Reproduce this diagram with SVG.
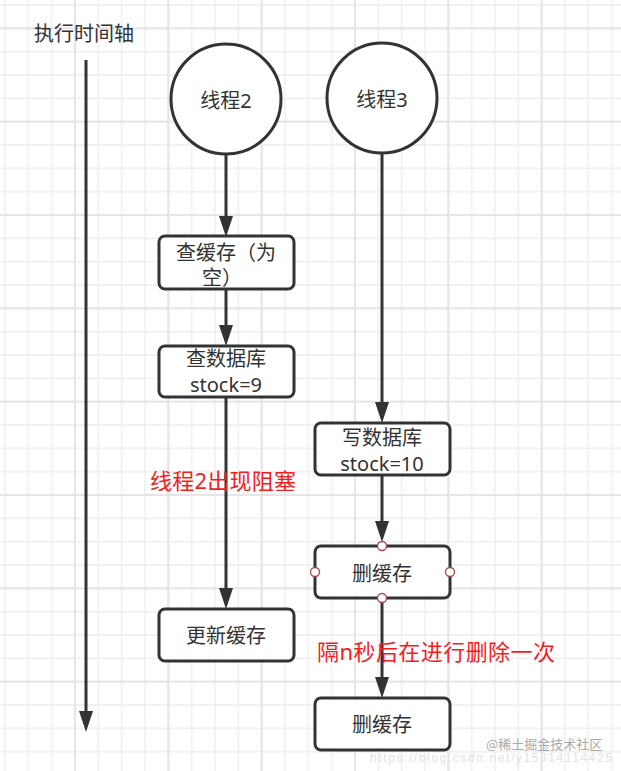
<svg xmlns="http://www.w3.org/2000/svg" width="621" height="771" viewBox="0 0 621 771">
  <style>
    .t { font-family: "Noto Sans", "Noto Sans CJK SC", sans-serif; font-size: 20px; fill: #333; text-anchor: middle; dominant-baseline: central; }
    .red { font-family: "Noto Sans", "Noto Sans CJK SC", sans-serif; font-size: 22px; fill: #f51c1c; dominant-baseline: central; }
    .box { fill: #fff; stroke: #333; stroke-width: 3; }
    .circ { fill: #fff; stroke: #333; stroke-width: 3; }
    .edge { stroke: #333; stroke-width: 3; fill: none; marker-end: url(#arr); }
    .pt { fill: #fff; stroke: #a84444; stroke-width: 1.3; }
  </style>
  <defs>
    <pattern id="minor" patternUnits="userSpaceOnUse" x="-6.667" y="-6.667" width="23.333" height="23.333">
      <path d="M11.667 0 V23.333 M0 11.667 H23.333" stroke="#ededed" stroke-width="1.3" fill="none"/>
    </pattern>
    <pattern id="major" patternUnits="userSpaceOnUse" x="28.333" y="-18.333" width="93.333" height="93.333">
      <path d="M46.667 0 V93.333 M0 46.667 H93.333" stroke="#e2e2e2" stroke-width="1.6" fill="none"/>
    </pattern>
    <marker id="arr" markerUnits="userSpaceOnUse" markerWidth="21" markerHeight="14" refX="0" refY="7" orient="auto" viewBox="0 0 21 14">
      <path d="M0 0 L21 7 L0 14 Z" fill="#333"/>
    </marker>
  </defs>

  <rect width="621" height="771" fill="#fff"/>
  <rect width="621" height="771" fill="url(#minor)"/>
  <rect width="621" height="771" fill="url(#major)"/>

  <g id="timeline">
    <text class="t" x="84" y="33">执行时间轴</text>
    <line class="edge" x1="86" y1="60" x2="86" y2="711"/>
  </g>

  <g id="connectors">
    <line class="edge" x1="226" y1="155" x2="226" y2="216"/>
    <line class="edge" x1="226" y1="289" x2="226" y2="325"/>
    <line class="edge" x1="226" y1="397" x2="226" y2="588"/>
    <line class="edge" x1="382" y1="153" x2="382" y2="402"/>
    <line class="edge" x1="382" y1="475" x2="382" y2="521"/>
    <line class="edge" x1="382" y1="598" x2="382" y2="677"/>
  </g>

  <g id="thread2">
    <circle class="circ" cx="226" cy="99" r="55"/>
    <text class="t" x="226" y="100">线程2</text>
  </g>
  <g id="thread3">
    <circle class="circ" cx="382" cy="98" r="55"/>
    <text class="t" x="382" y="99">线程3</text>
  </g>

  <g id="check-cache">
    <rect class="box" x="159" y="236" width="135" height="53" rx="6"/>
    <text class="t" x="226" y="252">查缓存（为</text>
    <text class="t" x="222" y="277">空）</text>
  </g>
  <g id="read-db">
    <rect class="box" x="159" y="346" width="135" height="51" rx="6"/>
    <text class="t" x="226" y="358">查数据库</text>
    <text class="t" x="226" y="384">stock=9</text>
  </g>
  <g id="update-cache">
    <rect class="box" x="159" y="609" width="135" height="52" rx="6"/>
    <text class="t" x="226" y="635">更新缓存</text>
  </g>
  <g id="write-db">
    <rect class="box" x="315" y="423" width="135" height="52" rx="6"/>
    <text class="t" x="382" y="437">写数据库</text>
    <text class="t" x="382" y="463">stock=10</text>
  </g>
  <g id="delete-cache-1">
    <rect class="box" x="315" y="546" width="135" height="52" rx="6"/>
    <text class="t" x="382" y="573">删缓存</text>
    <circle class="pt" cx="382" cy="546" r="4.5"/>
    <circle class="pt" cx="382" cy="598" r="4.5"/>
    <circle class="pt" cx="315" cy="572" r="4.5"/>
    <circle class="pt" cx="450" cy="572" r="4.5"/>
  </g>
  <g id="delete-cache-2">
    <rect class="box" x="315" y="698" width="135" height="52" rx="6"/>
    <text class="t" x="382" y="724">删缓存</text>
  </g>

  <g id="labels">
    <text class="red" x="150" y="480" textLength="146">线程2出现阻塞</text>
    <text class="red" x="317" y="651" textLength="238">隔n秒后在进行删除一次</text>
  </g>

  <g id="watermark">
    <text x="370" y="758" font-family="Liberation Sans, sans-serif" font-size="12" fill="#e2e2e2" dominant-baseline="central" textLength="242">https://blog.csdn.net/y15814114425</text>
    <text x="486" y="743" font-family="Noto Sans CJK SC, sans-serif" font-size="13" fill="#a8a8a8" dominant-baseline="central">@稀土掘金技术社区</text>
  </g>
</svg>
